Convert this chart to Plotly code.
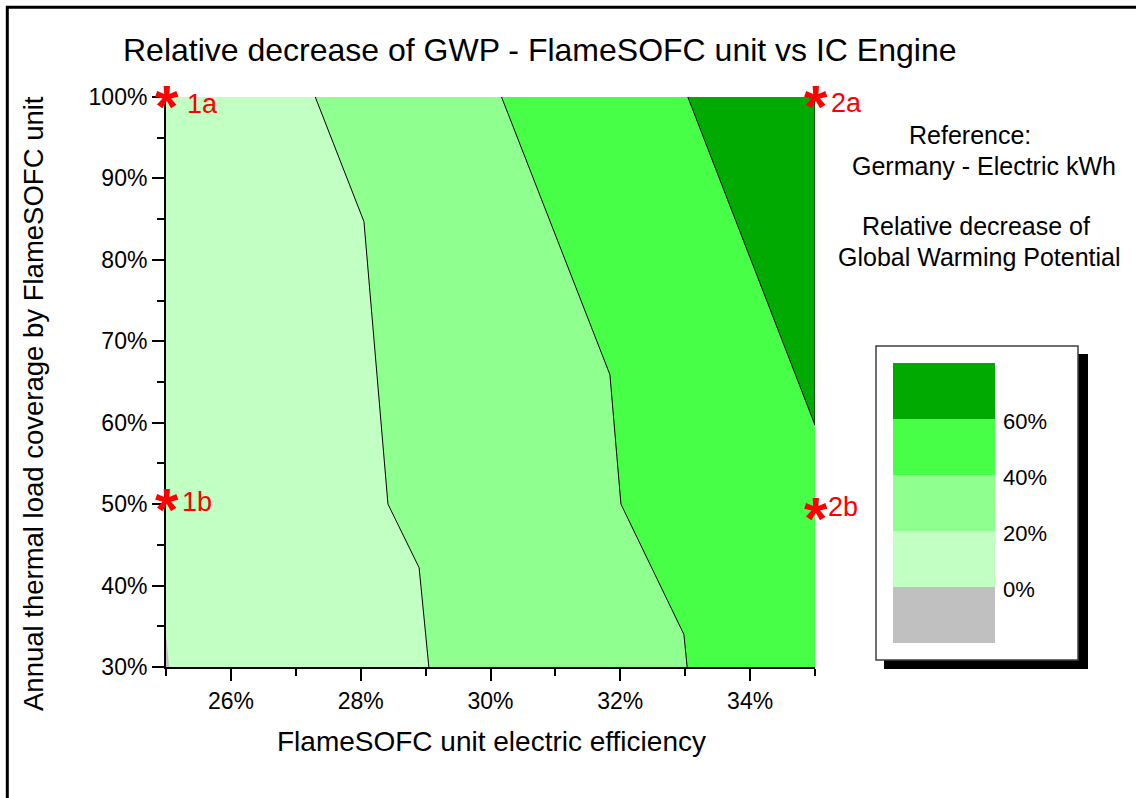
import plotly.graph_objects as go

# ---------------- data ----------------
eff_min, eff_max = 25.0, 35.0          # FlameSOFC electric efficiency [%]
cov_min, cov_max = 30.0, 100.0         # annual thermal load coverage [%]

# iso-lines of the relative GWP decrease (efficiency %, coverage %)
iso0_eff = [25.00, 25.05]
iso0_cov = [33.9, 30.0]
iso20_eff = [27.30, 28.05, 28.42, 28.90, 29.05]
iso20_cov = [100.0, 84.7, 50.0, 42.2, 30.0]
iso40_eff = [30.17, 31.84, 32.01, 32.98, 33.03]
iso40_cov = [100.0, 65.9, 50.0, 34.0, 30.0]
iso60_eff = [33.04, 35.00]
iso60_cov = [100.0, 59.7]

levels = [0, 20, 40, 60]
level_labels = ["0%", "20%", "40%", "60%"]
band_colors = ["#C0C0C0", "#C2FFC2", "#8FFF8F", "#48FF48", "#00AA00"]  # <0, 0-20, 20-40, 40-60, >60

# marked cases
case_eff = [25.0, 35.0, 25.0, 35.0]
case_cov = [100.0, 100.0, 50.4, 49.3]
case_names = ["1a", "2a", "1b", "2b"]

x_ticks = [26, 28, 30, 32, 34]
x_minor = [25, 27, 29, 31, 33, 35]
y_ticks = [30, 40, 50, 60, 70, 80, 90, 100]
y_minor = [35, 45, 55, 65, 75, 85, 95]

# ---------------- layout geometry (pixels) ----------------
W, H = 1136, 798
PL, PT, PW, PH = 166, 97, 649, 570
FONT = "Liberation Sans, Arial, sans-serif"


def px_x(p):
    return (p - PL) / PW


def px_y(p):
    return (PT + PH - p) / PH


def region_right(ix, iy):
    px, py = list(ix), list(iy)
    if py[-1] == cov_min:
        px.append(eff_max); py.append(cov_min)
    px.append(eff_max); py.append(cov_max)
    if px[0] == eff_min and py[0] < cov_max:
        px.append(eff_min); py.append(cov_max)
    return px, py


fig = go.Figure()

# full background band (< 0 %)
fig.add_trace(go.Scatter(
    x=[eff_min, eff_max, eff_max, eff_min], y=[cov_min, cov_min, cov_max, cov_max],
    fill="toself", fillcolor=band_colors[0], mode="lines", line=dict(width=0),
    hoverinfo="skip", showlegend=False))

isos = [(iso0_eff, iso0_cov), (iso20_eff, iso20_cov), (iso40_eff, iso40_cov), (iso60_eff, iso60_cov)]
for i, (ix, iy) in enumerate(isos):
    rx, ry = region_right(ix, iy)
    fig.add_trace(go.Scatter(
        x=rx, y=ry, fill="toself", fillcolor=band_colors[i + 1], mode="lines",
        line=dict(width=0), hoverinfo="skip", showlegend=False))

# contour lines (the 0 % boundary is not outlined in the original)
for i, (ix, iy) in enumerate(isos):
    if i == 0:
        continue
    lx, ly = list(ix), list(iy)
    if i == len(isos) - 1:
        lx.append(eff_max); ly.append(cov_max)
    fig.add_trace(go.Scatter(
        x=lx, y=ly, mode="lines", line=dict(color="black", width=1),
        hoverinfo="skip", showlegend=False))

annotations = []
shapes = []

# marked cases: red asterisks + labels
label_dx = [22, 17, 17, 14]
label_dy = [-7, -5.5, -1.6, 3.2]
for k in range(len(case_names)):
    annotations.append(dict(
        x=case_eff[k], y=case_cov[k], xref="x", yref="y", text="<b>*</b>", showarrow=False,
        font=dict(family=FONT, size=60, color="#FF0000"), xanchor="center", yanchor="middle",
        xshift=1, yshift=-9))
    annotations.append(dict(
        x=case_eff[k], y=case_cov[k], xref="x", yref="y", text=case_names[k], showarrow=False,
        font=dict(family=FONT, size=27, color="#FF0000"), xanchor="left", yanchor="middle",
        xshift=label_dx[k] - 3, yshift=label_dy[k]))

# titles
annotations.append(dict(x=px_x(540), y=px_y(50), xref="paper", yref="paper",
                        text="Relative decrease of GWP - FlameSOFC unit vs IC Engine",
                        showarrow=False, font=dict(family=FONT, size=32, color="black"),
                        xanchor="center", yanchor="middle"))
annotations.append(dict(x=px_x(491), y=px_y(741), xref="paper", yref="paper",
                        text="FlameSOFC unit electric efficiency",
                        showarrow=False, font=dict(family=FONT, size=28, color="black"),
                        xanchor="center", yanchor="middle"))
annotations.append(dict(x=px_x(33), y=px_y(404), xref="paper", yref="paper",
                        text="Annual thermal load coverage by FlameSOFC unit", textangle=-90,
                        showarrow=False, font=dict(family=FONT, size=27.5, color="black"),
                        xanchor="center", yanchor="middle"))

side_texts = [("Reference:", 970, 135), ("Germany - Electric kWh", 984, 166),
              ("Relative decrease of", 976, 226), ("Global Warming Potential", 979, 257)]
for t, cx, cy in side_texts:
    annotations.append(dict(x=px_x(cx), y=px_y(cy), xref="paper", yref="paper", text=t,
                            showarrow=False, font=dict(family=FONT, size=25, color="black"),
                            xanchor="center", yanchor="middle"))

# legend box with shadow
shapes.append(dict(type="rect", xref="paper", yref="paper", x0=px_x(884), x1=px_x(1088),
                   y0=px_y(669), y1=px_y(354), fillcolor="black", line=dict(width=0), layer="above"))
shapes.append(dict(type="rect", xref="paper", yref="paper", x0=px_x(876), x1=px_x(1078),
                   y0=px_y(660), y1=px_y(346), fillcolor="white",
                   line=dict(color="#404040", width=1.5), layer="above"))
blk_top, blk_h = 363, 56
for j, col in enumerate(reversed(band_colors)):
    shapes.append(dict(type="rect", xref="paper", yref="paper", x0=px_x(893), x1=px_x(995),
                       y0=px_y(blk_top + (j + 1) * blk_h), y1=px_y(blk_top + j * blk_h),
                       fillcolor=col, line=dict(width=0), layer="above"))
for j, lab in enumerate(reversed(level_labels)):
    annotations.append(dict(x=px_x(1001), y=px_y(blk_top + (j + 1) * blk_h + 2), xref="paper", yref="paper",
                            text=lab, showarrow=False, font=dict(family=FONT, size=22, color="black"),
                            xanchor="left", yanchor="middle"))

# outer frame
shapes.append(dict(type="rect", xref="paper", yref="paper", x0=px_x(7.3), x1=px_x(1400),
                   y0=px_y(1100), y1=px_y(7.3), line=dict(color="black", width=3),
                   fillcolor="rgba(0,0,0,0)", layer="above"))

axis_common = dict(showgrid=False, zeroline=False, showline=True, linecolor="black", linewidth=2,
                   ticks="outside", ticklen=12, tickwidth=2, tickcolor="black",
                   tickfont=dict(family=FONT, size=23, color="black"), fixedrange=True)

fig.update_layout(
    width=W, height=H,
    margin=dict(l=PL, r=W - PL - PW, t=PT, b=H - PT - PH),
    paper_bgcolor="white", plot_bgcolor="white",
    xaxis=dict(range=[eff_min, eff_max], tickmode="array", tickvals=x_ticks,
               ticktext=[f"{v}%" for v in x_ticks],
               minor=dict(tickmode="array", tickvals=x_minor, ticks="outside", ticklen=7,
                          tickwidth=2, tickcolor="black"), **axis_common),
    yaxis=dict(range=[cov_min, cov_max], tickmode="array", tickvals=y_ticks,
               ticktext=[f"{v}%" for v in y_ticks],
               minor=dict(tickmode="array", tickvals=y_minor, ticks="outside", ticklen=7,
                          tickwidth=2, tickcolor="black"), **axis_common),
    annotations=annotations, shapes=shapes, showlegend=False,
)

fig.write_html("out.html")
